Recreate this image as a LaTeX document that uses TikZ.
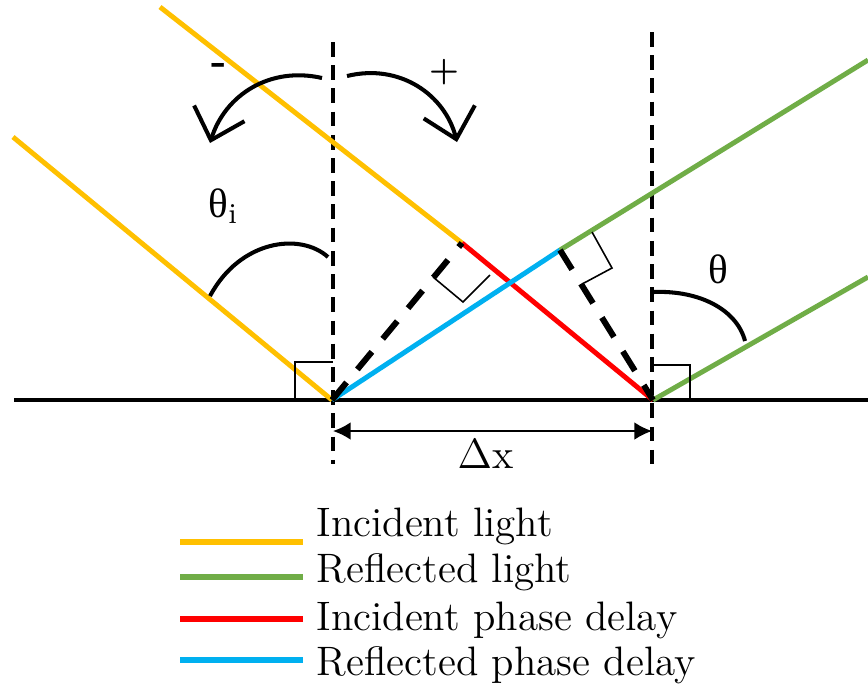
\documentclass[tikz,border=0pt]{standalone}
\usepackage{fontspec}
\newfontfamily\grk{Liberation Serif}
\usepackage{tikz}
\usetikzlibrary{arrows.meta}
\definecolor{incident}{HTML}{FFC000}
\definecolor{reflected}{HTML}{70AD47}
\definecolor{incdelay}{HTML}{FF0000}
\definecolor{refdelay}{HTML}{00B0F0}

\begin{document}
\begin{tikzpicture}[x=0.01cm,y=-0.01cm,
    ray/.style={line width=1.4pt},
    normal/.style={line width=0.95pt,dash pattern=on 4.2pt off 2.4pt},
    proj/.style={line width=1.7pt,dash pattern=on 6.5pt off 4.8pt},
    rangle/.style={line width=0.45pt},
    curve/.style={line width=1.15pt},
    turn/.style={curve,-{Straight Barb[length=8pt,width=15pt]}},
    lbl/.style={anchor=base west,inner sep=0pt,font=\fontsize{11.7}{14}\selectfont}]
        \useasboundingbox (0,0) rectangle (868,690);

        \coordinate (A) at (332,400);
        \coordinate (B) at (653,400);
        \coordinate (P) at (462,243);
        \coordinate (Q) at (560,250);

        \draw[line width=1.4pt] (14,400)--(868,400);
        \draw[normal] (333,42)--(333,464);
        \draw[normal] (652,32)--(652,464);

        \draw[ray,incident] (13,137)--(A);
        \draw[ray,incident] (160,7)--(P);
        \draw[ray,incdelay] (P)--(B);
        \draw[ray,refdelay] (A)--(Q);
        \draw[ray,reflected] (Q)--(868,60);
        \draw[ray,reflected] (B)--(868,277);

        \draw[proj] (A)--(P);
        \draw[proj] (Q)--(B);

        \draw[rangle] (433,277)--(463,302)--(490,275);
        \draw[rangle] (592,232)--(612,268)--(584,283);
        \draw[rangle] (295,400)--(295,362)--(333,362);
        \draw[rangle] (652,365)--(690,365)--(690,400);

        \draw[curve] (210,296) .. controls (240,240) and (300,232) .. (328,257);
        \draw[curve] (653,292) .. controls (700,290) and (737,310) .. (745,341);
        \node[lbl] (thi) at (208,217) {{\grk θ}\textsubscript{i}};
        \node[lbl] (th) at (708,283) {{\grk θ}};

        \draw[turn] (322,78) .. controls (270,66) and (225,95) .. (210,143);
        \draw[turn] (347,76) .. controls (400,63) and (445,95) .. (457,142);
        \node[font=\fontsize{11.7}{14}\selectfont\bfseries] (minus) at (219,69) {-};
        \node[font=\fontsize{9.5}{11}\selectfont\bfseries] (plus) at (444,72) {+};

        \coordinate (D1) at (333,431);
        \coordinate (D2) at (652,431);
        \draw[line width=0.55pt,{Latex[length=5pt,width=5pt]}-{Latex[length=5pt,width=5pt]}] (D1)--(D2);
        \node[lbl] (dx) at (457,468) {$\Delta$x};

        \draw[line width=1.7pt,incident] (180,542)--(303,542);
        \draw[line width=1.7pt,reflected] (180,577)--(303,577);
        \draw[line width=1.7pt,incdelay] (180,619)--(303,619);
        \draw[line width=1.7pt,refdelay] (180,660)--(303,660);
        \node[lbl] (l1) at (316,536) {Incident light};
        \node[lbl] (l2) at (316,582) {Reflected light};
        \node[lbl] (l3) at (316,630) {Incident phase delay};
        \node[lbl] (l4) at (316,675) {Reflected phase delay};
    \end{tikzpicture}
\end{document}
